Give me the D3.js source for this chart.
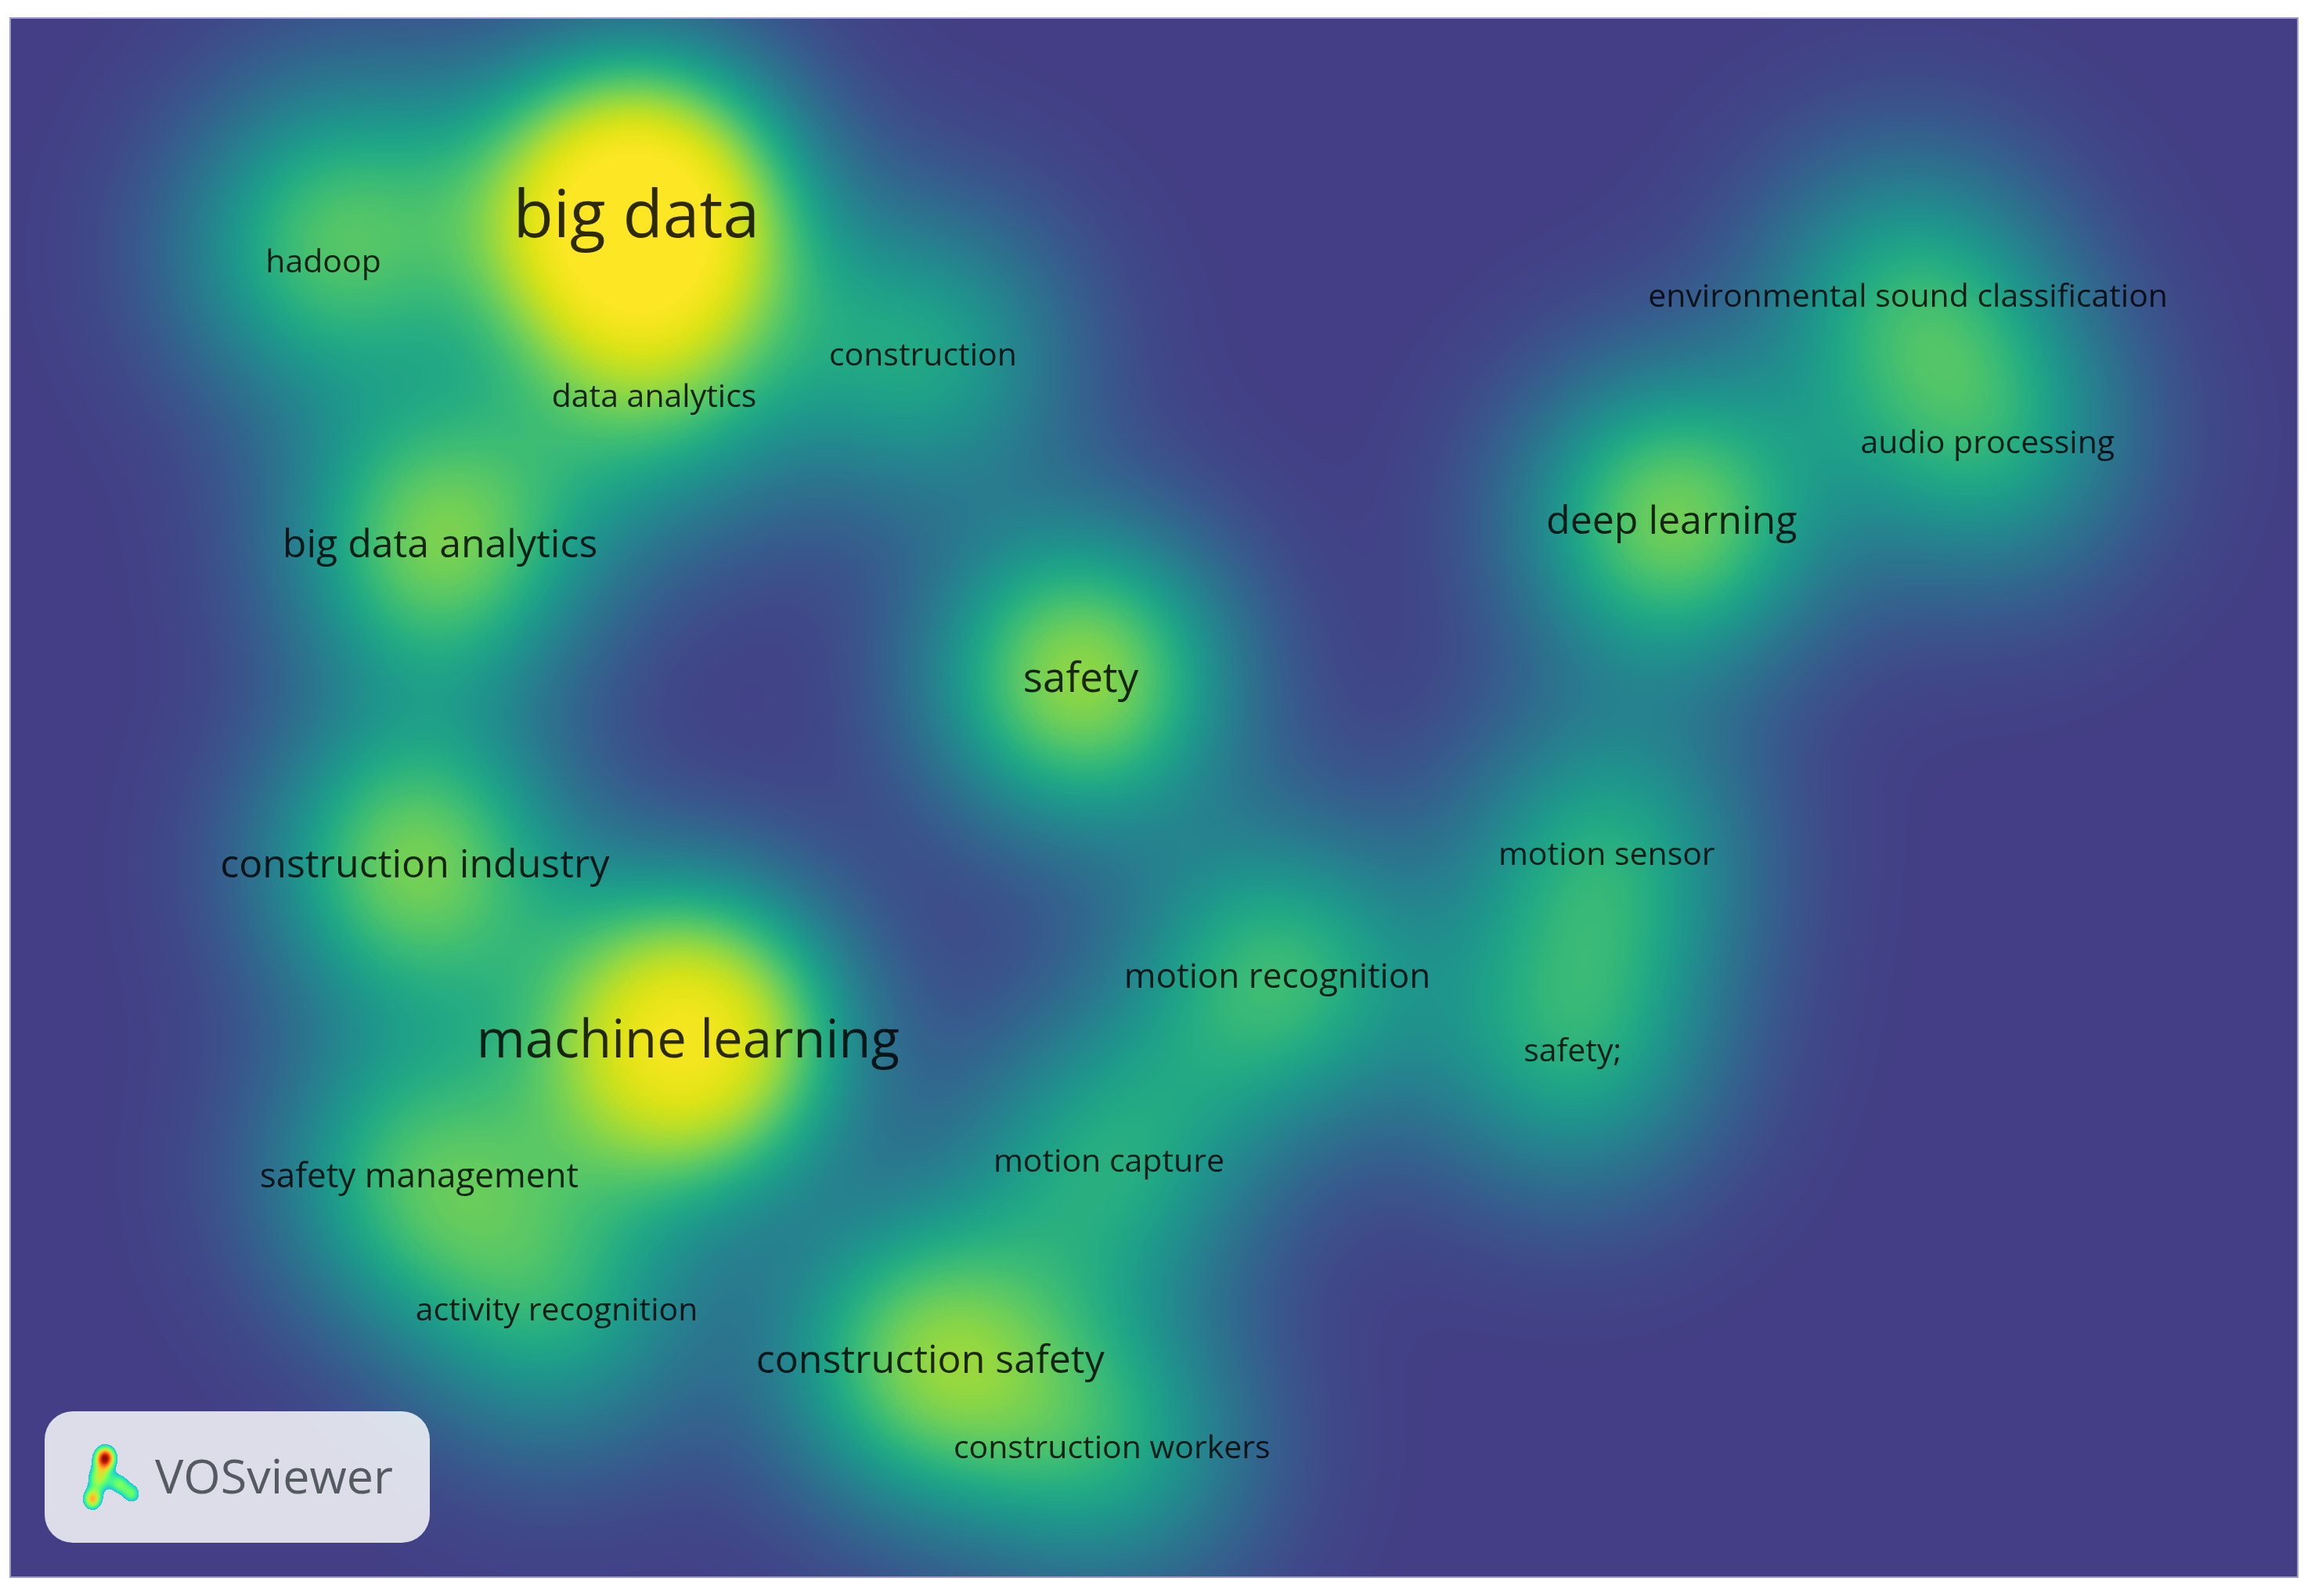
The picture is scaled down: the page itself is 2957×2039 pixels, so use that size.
<!DOCTYPE html>
<html>
<head>
<meta charset="utf-8">
<script src="https://cdnjs.cloudflare.com/ajax/libs/d3/7.8.5/d3.min.js"></script>
<style>
  html, body { margin: 0; padding: 0; background: #ffffff; }
  #wrap { position: relative; width: 2957px; height: 2039px; overflow: hidden; }
  #wrap canvas, #wrap svg { position: absolute; left: 0; top: 0; }
</style>
</head>
<body>
<div id="wrap"></div>
<script>
// ---------------- data (VOSviewer map coordinates & item weights) ----------------
// an empty label = item whose label VOSviewer hid (overlap), still adds density
const items = [
  "big data", "hadoop", "data analytics", "construction", "big data analytics",
  "safety", "deep learning", "environmental sound classification", "audio processing",
  "construction industry", "machine learning", "motion sensor", "motion recognition",
  "safety;", "safety management", "motion capture", "activity recognition",
  "construction safety", "construction workers", ""
];
const mapX = [27.37, 13.69, 28.15, 39.90, 18.79, 46.80, 72.63, 82.96, 86.44,
              17.69, 29.63, 69.79, 55.39, 68.30, 17.88, 48.03, 23.89, 40.22, 48.16, 15.69];
const mapY = [ 8.59, 10.65, 16.53, 14.72, 22.98, 28.86, 21.95, 12.14, 18.53,
              36.99, 44.67, 36.54, 41.90, 45.13, 50.61, 49.97, 56.49, 58.68, 62.49, 6.65];
const weights = [28, 9.5, 8, 9, 14, 15.5, 14, 9, 8.5,
                 14, 23, 9, 11, 9, 11, 9, 8.5, 14, 8.5, 4];
const logoName = "VOSviewer";

// ---------------- layout ----------------
const W = 2957, H = 2039;
const M = { left: 13, top: 23, right: 2935, bottom: 2015 };
const x = d3.scaleLinear().domain([0, 100]).range([M.left, M.right]);
const y = d3.scaleLinear().domain([0, 68.2]).range([M.top, M.bottom]);
const fontSize = d3.scaleLinear().domain([9, 14, 23, 28]).range([40, 50, 67, 84]).clamp(true);
const color = d3.scaleSequential(t => d3.interpolateViridis(t)).domain([0, 1]);
const tOf = d3.scaleLinear().domain([0, 1]).range([0.18, 1]).clamp(true);

const wrap = d3.select("#wrap");

// ---------------- density canvas ----------------
const mapW = M.right - M.left, mapH = M.bottom - M.top;
const step = 2;
const gw = Math.ceil(mapW / step), gh = Math.ceil(mapH / step);
const sigmaPx = x(4.6) - x(0);
const sat = 19.5;
const softP = 6;
const off = document.createElement("canvas");
off.width = gw; off.height = gh;
const octx = off.getContext("2d");
const img = octx.createImageData(gw, gh);
const pts = items.map((n, i) => ({ px: x(mapX[i]) - M.left, py: y(mapY[i]) - M.top, w: weights[i] }));
const lut = d3.range(256).map(i => d3.rgb(color(tOf(i / 255))));
const inv2s2 = 1 / (2 * sigmaPx * sigmaPx);
for (let j = 0; j < gh; j++) {
  const py = j * step + step / 2;
  for (let i = 0; i < gw; i++) {
    const px = i * step + step / 2;
    let D = 0;
    for (const p of pts) {
      const dx = px - p.px, dy = py - p.py;
      const r2 = dx * dx + dy * dy;
      if (r2 < 40 * sigmaPx * sigmaPx) D += p.w * Math.exp(-r2 * inv2s2);
    }
    const u = D / sat;
    const d = Math.min(1, u / Math.pow(1 + Math.pow(u, softP), 1 / softP) * 1.03);
    const c = lut[Math.round(d * 255)];
    const k = (j * gw + i) * 4;
    img.data[k] = c.r; img.data[k + 1] = c.g; img.data[k + 2] = c.b; img.data[k + 3] = 255;
  }
}
octx.putImageData(img, 0, 0);

const canvas = wrap.append("canvas").attr("width", W).attr("height", H).node();
const ctx = canvas.getContext("2d");
ctx.fillStyle = "#ffffff";
ctx.fillRect(0, 0, W, H);
ctx.imageSmoothingEnabled = true;
ctx.imageSmoothingQuality = "high";
ctx.drawImage(off, M.left, M.top, mapW, mapH);

// ---------------- SVG overlay ----------------
const svg = wrap.append("svg").attr("width", W).attr("height", H);

svg.append("rect")
  .attr("x", M.left).attr("y", M.top).attr("width", mapW).attr("height", mapH)
  .attr("fill", "none").attr("stroke", "#a09dc9").attr("stroke-width", 2);

svg.append("g").selectAll("text")
  .data(items.filter(d => d !== ""))
  .join("text")
  .attr("x", d => x(mapX[items.indexOf(d)]))
  .attr("y", d => y(mapY[items.indexOf(d)]))
  .attr("dy", "0.35em")
  .attr("text-anchor", "middle")
  .attr("font-family", "'Open Sans', 'Noto Sans', sans-serif")
  .attr("font-size", d => fontSize(Math.max(weights[items.indexOf(d)], 9.5)))
  .attr("fill", "#000")
  .attr("fill-opacity", 0.82)
  .text(d => d);

// ---------------- VOSviewer logo box ----------------
const logo = svg.append("g");
logo.append("rect")
  .attr("x", 57).attr("y", 1803).attr("width", 492).attr("height", 168)
  .attr("rx", 36).attr("ry", 36)
  .attr("fill", "#ffffff").attr("fill-opacity", 0.82);
logo.append("text")
  .attr("x", 198).attr("y", 1887).attr("dy", "0.35em")
  .attr("font-family", "'Open Sans', 'Noto Sans', sans-serif")
  .attr("font-size", 61).attr("fill", "#555a60")
  .text(logoName);

// small logo heat glyph drawn as mini density (turbo colours)
const lw = 90, lh = 100;
const lc = document.createElement("canvas");
lc.width = lw; lc.height = lh;
const lctx = lc.getContext("2d");
const limg = lctx.createImageData(lw, lh);
const lpts = [[0.42, 0.22, 1.0, 0.11], [0.33, 0.48, 0.55, 0.12], [0.24, 0.75, 0.7, 0.1],
              [0.62, 0.55, 0.45, 0.1], [0.8, 0.68, 0.45, 0.1]];
for (let j = 0; j < lh; j++) for (let i = 0; i < lw; i++) {
  let D = 0;
  for (const [u, v, w, s] of lpts) {
    const dx = i / lw - u, dy = j / lh - v;
    D += w * Math.exp(-(dx * dx + dy * dy) / (2 * s * s));
  }
  const k = (j * lw + i) * 4;
  if (D > 0.28) {
    const c = d3.rgb(d3.interpolateTurbo(Math.min(1, 0.25 + (D - 0.28) * 0.95)));
    limg.data[k] = c.r; limg.data[k + 1] = c.g; limg.data[k + 2] = c.b; limg.data[k + 3] = 255;
  }
}
lctx.putImageData(limg, 0, 0);
logo.append("image")
  .attr("href", lc.toDataURL())
  .attr("x", 96).attr("y", 1840).attr("width", lw).attr("height", lh);
</script>
</body>
</html>
